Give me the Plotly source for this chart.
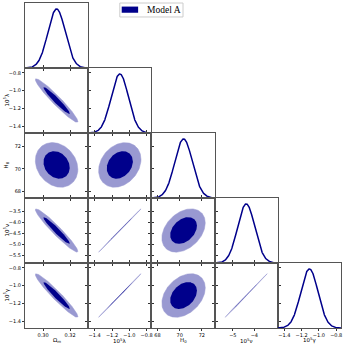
# Triangle (corner) plot of the posterior for Model A
import numpy as np
import plotly.graph_objects as go
from plotly.subplots import make_subplots

# Parameter names, posterior means and standard deviations
labels = ["Ω<sub>m</sub>", "10<sup>5</sup>λ", "H<sub>0</sub>", "10<sup>5</sup>ν", "10<sup>5</sup>γ"]
means = [0.310, -1.11, 70.35, -4.38, -1.11]
sigmas = [0.0064, 0.10, 0.80, 0.40, 0.10]

# Pairwise correlation coefficients (row parameter, column parameter)
corr_pairs = {
    (1, 0): -0.96,
    (2, 0): -0.20,
    (2, 1): 0.25,
    (3, 0): -0.96,
    (3, 1): 0.9995,
    (3, 2): 0.35,
    (4, 0): -0.96,
    (4, 1): 0.9995,
    (4, 2): 0.35,
    (4, 3): 0.9995,
}

# Axis ranges and tick values
axis_ranges = [[0.2867, 0.3333], [-1.475, -0.745], [67.45, 73.15], [-5.85, -2.91], [-1.475, -0.745]]
x_ticks = [[0.30, 0.32], [-1.4, -1.2, -1.0, -0.8], [68, 70, 72], [-5, -4], [-1.4, -1.2, -1.0, -0.8]]
y_ticks = [[], [-0.8, -1.0, -1.2, -1.4], [68, 70, 72], [-3.5, -4.0, -4.5, -5.0, -5.5], [-0.8, -1.0, -1.2, -1.4]]
x_formats = [".2f", ".1f", "d", "d", ".1f"]
y_formats = [".2f", ".1f", "d", ".1f", ".1f"]

# Contour levels (95% and 68% of a 2D gaussian)
levels = [0.95, 0.68]
legend_name = "Model A"

DARK = "#00008B"
LIGHT = "#9999D1"
N = len(labels)


def ellipse(i, j, p):
    """Outline of the p-level credible region for column j (x) and row i (y)."""
    rho = corr_pairs[(i, j)]
    sx, sy = sigmas[j], sigmas[i]
    r = np.sqrt(-2 * np.log(1 - p))
    t = np.linspace(0, 2 * np.pi, 200)
    u, v = np.cos(t), np.sin(t)
    x = means[j] + r * sx * u
    y = means[i] + r * sy * (rho * u + np.sqrt(1 - rho ** 2) * v)
    return x, y


fig = make_subplots(rows=N, cols=N, horizontal_spacing=0, vertical_spacing=0)

for i in range(N):
    for j in range(i + 1):
        if i == j:
            # 1D marginal
            x = np.linspace(axis_ranges[i][0], axis_ranges[i][1], 300)
            y = np.exp(-0.5 * ((x - means[i]) / sigmas[i]) ** 2)
            fig.add_trace(go.Scatter(x=x, y=y, mode="lines",
                                     line=dict(color=DARK, width=1.5),
                                     showlegend=False, hoverinfo="skip"),
                          row=i + 1, col=j + 1)
        else:
            # 2D contours, outer then inner
            for p, color in zip(levels, [LIGHT, DARK]):
                ex, ey = ellipse(i, j, p)
                fig.add_trace(go.Scatter(x=ex, y=ey, mode="lines", fill="toself",
                                         fillcolor=color,
                                         line=dict(color=color, width=0.5 if color == LIGHT else 0),
                                         name=legend_name, showlegend=False,
                                         hoverinfo="skip"),
                              row=i + 1, col=j + 1)

axis_font = dict(family="DejaVu Sans", size=5, color="black")
title_font = dict(family="DejaVu Sans", size=5.5, color="black")

for i in range(N):
    for j in range(N):
        r, c = i + 1, j + 1
        if j > i:
            fig.update_xaxes(visible=False, row=r, col=c)
            fig.update_yaxes(visible=False, row=r, col=c)
            continue
        bottom = i == N - 1
        left = j == 0
        fig.update_xaxes(
            range=axis_ranges[j], tickvals=x_ticks[j], tickformat=x_formats[j],
            showticklabels=bottom, ticks="outside", ticklen=2, tickwidth=0.8,
            tickcolor="#333", showline=True, linecolor="#555", linewidth=1,
            mirror=True if i == j else "ticks", showgrid=False, zeroline=False,
            tickfont=axis_font, automargin=False, row=r, col=c)
        if i == j:
            fig.update_yaxes(range=[0, 1.1], showticklabels=False, ticks="",
                             showline=True, linecolor="#555", linewidth=1, mirror=True,
                             showgrid=False, zeroline=False, automargin=False,
                             row=r, col=c)
        else:
            fig.update_yaxes(
                range=axis_ranges[i], tickvals=y_ticks[i], tickformat=y_formats[i],
                showticklabels=left, ticks="outside", ticklen=2, tickwidth=0.8,
                tickcolor="#333", showline=True, linecolor="#555", linewidth=1,
                mirror="ticks", showgrid=False, zeroline=False, tickfont=axis_font,
                automargin=False, row=r, col=c)

# Axis titles along the bottom row and the left column
for k in range(N):
    fig.add_annotation(text=labels[k], xref=f"x{(N - 1) * N + k + 1} domain", x=0.5,
                       yref="paper", y=0, yshift=-12, yanchor="middle",
                       showarrow=False, font=title_font)
    if k > 0:
        fig.add_annotation(text=labels[k], xref="paper", x=0, xshift=-19, xanchor="center",
                           yref=f"y{k * N + 1} domain", y=0.5, textangle=-90,
                           showarrow=False, font=title_font)

# Legend box drawn like the matplotlib one
fig.add_shape(type="rect", xref="paper", yref="paper",
              x0=0.3, x1=0.5, y0=0.957, y1=1.0, line=dict(color="#cccccc", width=1),
              fillcolor="white")
fig.add_shape(type="rect", xref="paper", yref="paper",
              x0=0.306, x1=0.358, y0=0.970, y1=0.989, line=dict(width=0),
              fillcolor=DARK)
fig.add_annotation(text=legend_name, xref="paper", x=0.3797, xanchor="left",
                   yref="paper", y=0.9785, yanchor="middle", showarrow=False,
                   font=dict(family="Liberation Serif", size=9.5, color="black"))

fig.update_layout(
    width=344, height=346,
    margin=dict(l=25, r=3, t=3, b=18),
    paper_bgcolor="white", plot_bgcolor="white",
    showlegend=False,
)

# drop the browser's default page margin so the figure sits at the top-left corner
fig.write_html("out.html", config={"displayModeBar": False},
               post_script="document.body.style.margin='0';")
